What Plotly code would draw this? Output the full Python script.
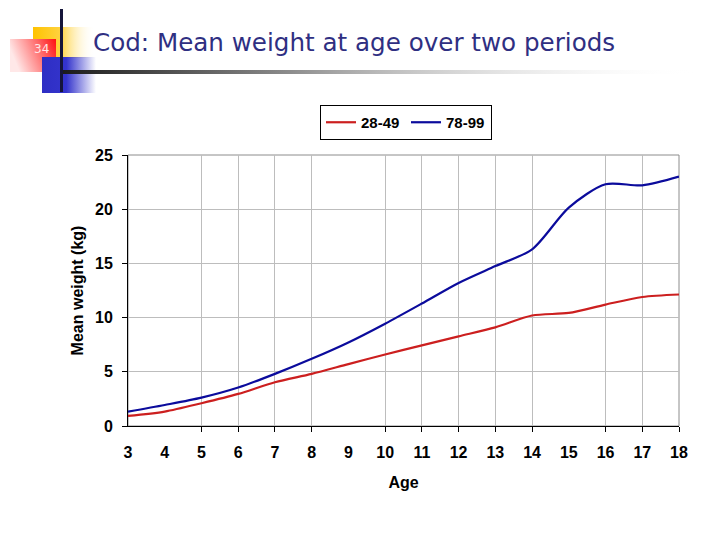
import base64
import plotly.graph_objects as go

# ---- data ----
ages = [3, 4, 5, 6, 7, 8, 9, 10, 11, 12, 13, 14, 15, 16, 17, 18]
age_labels = [str(a) for a in ages]
grid_ages = [5, 6, 7, 8, 10, 11, 12, 13, 14, 16, 17, 18]
w_28_49 = [0.93, 1.33, 2.10, 2.96, 4.04, 4.81, 5.71, 6.60, 7.44, 8.27, 9.10, 10.19, 10.43, 11.20, 11.90, 12.13]
w_78_99 = [1.32, 1.94, 2.62, 3.55, 4.81, 6.20, 7.71, 9.44, 11.30, 13.20, 14.75, 16.30, 20.15, 22.30, 22.20, 23.00]
series_names = ["28-49", "78-99"]
y_ticks = [0, 5, 10, 15, 20, 25]

# page body has an 8px margin: compensate
OFF = 8
W, H = 720 - OFF, 540 - OFF
ML, MT = 128 - OFF, 155 - OFF
MR = W - (679 - OFF)
MB = H - (426 - OFF)
PW, PH = W - ML - MR, H - MT - MB


def px(xs):  # screen px -> paper
    return (xs - OFF - ML) / PW


def py(ys):
    return (H - MB - (ys - OFF)) / PH


BOLD = dict(family="Liberation Sans, Arial, sans-serif", size=16, color="black", weight="bold")
LEG = dict(BOLD, size=15)

fig = go.Figure()
fig.add_trace(go.Scatter(x=ages, y=w_28_49, name=series_names[0], mode="lines",
                         line=dict(color="#CC1F1F", width=2.2, shape="spline", smoothing=0.8)))
fig.add_trace(go.Scatter(x=ages, y=w_78_99, name=series_names[1], mode="lines",
                         line=dict(color="#0B0B9C", width=2.2, shape="spline", smoothing=0.8)))

svg = """<svg xmlns='http://www.w3.org/2000/svg' width='720' height='100' viewBox='0 0 720 100'>
<defs>
<linearGradient id='y' x1='0' y1='0' x2='1' y2='0'><stop offset='0' stop-color='#FFC200'/><stop offset='0.45' stop-color='#FFD340'/><stop offset='1' stop-color='#FFFFFF' stop-opacity='0'/></linearGradient>
<linearGradient id='r' x1='0' y1='0.3' x2='1' y2='0'><stop offset='0' stop-color='#FFE8E8'/><stop offset='0.6' stop-color='#FF6A6A'/><stop offset='1' stop-color='#FF1010'/></linearGradient>
<linearGradient id='b' x1='0' y1='0' x2='1' y2='0'><stop offset='0' stop-color='#2E2EC4'/><stop offset='0.45' stop-color='#3434CC'/><stop offset='1' stop-color='#3434CC' stop-opacity='0'/></linearGradient>
<linearGradient id='h' x1='0' y1='0' x2='1' y2='0'><stop offset='0' stop-color='#1A1A1A'/><stop offset='0.35' stop-color='#8A8A8A'/><stop offset='1' stop-color='#FFFFFF' stop-opacity='0'/></linearGradient>
</defs>
<rect x='33' y='27' width='62' height='31' fill='url(#y)'/>
<rect x='10' y='39' width='46' height='33' fill='url(#r)'/>
<rect x='42' y='57' width='54' height='36' fill='url(#b)'/>
<rect x='61' y='70' width='640' height='4' fill='url(#h)'/>
<rect x='60' y='9' width='3' height='83' fill='#15153A'/>
</svg>"""
src = "data:image/svg+xml;base64," + base64.b64encode(svg.encode()).decode()
fig.add_layout_image(dict(source=src, xref="paper", yref="paper", x=px(0), y=py(0),
                          sizex=720 / PW, sizey=100 / PH, xanchor="left", yanchor="top",
                          sizing="stretch", layer="below"))

# plot border (top/right grey)
fig.add_shape(type="rect", xref="paper", yref="paper", x0=0, x1=1, y0=0, y1=1,
              line=dict(color="#8C8C8C", width=1), layer="below")

fig.add_annotation(text="34", xref="paper", yref="paper", x=px(41), y=py(49),
                   xanchor="center", yanchor="middle",
                   showarrow=False, font=dict(family="DejaVu Sans, Verdana", size=12, color="#FFE6E6"))
fig.add_annotation(text="Cod: Mean weight at age over two periods", xref="paper", yref="paper",
                   x=px(91), y=py(42), xanchor="left", yanchor="middle", showarrow=False,
                   font=dict(family="DejaVu Sans, Verdana, sans-serif", size=24.6, color="#2F2F82"))

fig.update_layout(
    width=W, height=H,
    margin=dict(l=ML, r=MR, t=MT, b=MB),
    paper_bgcolor="white", plot_bgcolor="white",
    showlegend=True,
    legend=dict(orientation="h", x=px(320), y=py(105), xanchor="left", yanchor="top",
                bordercolor="black", borderwidth=1, bgcolor="white",
                font=LEG, itemwidth=30, tracegroupgap=0,
                entrywidth=40, entrywidthmode="pixels"),
    xaxis=dict(range=[3, 18], tickvals=ages, ticktext=age_labels, ticks="", showgrid=False,
               showline=True, linecolor="black", linewidth=1, tickfont=BOLD, zeroline=False,
               ticklabelstandoff=12,
               title=dict(text="Age", font=BOLD, standoff=16)),
    xaxis2=dict(range=[3, 18], overlaying="x", side="bottom", tickvals=grid_ages, ticks="outside",
                ticklen=5, tickcolor="black", showticklabels=False, showgrid=True,
                gridcolor="#BDBDBD", gridwidth=1, zeroline=False, showline=False),
    yaxis=dict(range=[0, 25], tickvals=y_ticks, ticks="outside", ticklen=5, tickcolor="black",
               showline=True, linecolor="black", linewidth=1, gridcolor="#BDBDBD", zeroline=False,
               tickfont=BOLD, ticklabelstandoff=6,
               title=dict(text="Mean weight (kg)", font=BOLD, standoff=7)),
)
# invisible helper trace to activate xaxis2 (tick marks / gridlines)
fig.add_trace(go.Scatter(x=[3], y=[0], xaxis="x2", mode="markers", marker=dict(opacity=0),
                         showlegend=False, hoverinfo="skip"))

fig.write_html("out.html")
